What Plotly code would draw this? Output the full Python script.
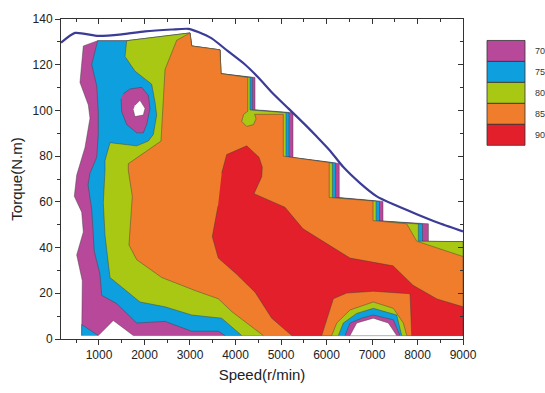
import plotly.graph_objects as go

# ---------------- data (speed r/min, torque N.m) ----------------
levels = [70, 75, 80, 85, 90]
level_colors = ["#b8489a", "#0e9fdf", "#a9c813", "#ef7d2b", "#e31f2b"]

# peak torque envelope
curve_speed = [165, 473, 985, 1499, 2011, 2598, 2963, 3183, 3477, 3842, 4209, 4502, 4796,
               5161, 5528, 5785, 6078, 6370, 6737, 7104, 7469, 7983, 8423, 9000]
curve_torque = [129.6, 133.9, 132.6, 133.3, 134.6, 135.4, 135.7, 134.3, 131.5, 125.8, 120.1,
                114.4, 108.0, 100.9, 93.8, 88.6, 82.4, 75.2, 68.2, 62.4, 58.9, 54.6, 51.1, 47.1]

# region >= 70 (measured operating domain)
dom_speed = [620, 633, 510, 655, 620, 457, 510, 692, 802, 765, 582, 604, 655, 971, 1609, 3000,
             3038, 3660, 3682, 4429, 4429, 5264, 5264, 6280, 6280, 7242, 7242, 8240, 8240,
             9000, 9000, 1754, 1314, 985]
dom_torque = [1.5, 25.5, 36.8, 46.8, 55.5, 62.4, 71.7, 83.8, 96.6, 102.4, 112.2, 117.2, 128.2,
              130.5, 130.5, 133.9, 128.2, 126.5, 116.1, 114.4, 100.3, 99.0, 79.4, 76.8, 61.9,
              60.2, 51.6, 50.4, 42.7, 42.6, 1.5, 1.5, 8.1, 1.5]

# region >= 75
p75_speed = [3770, 3622, 3038, 2451, 1829, 1389, 1059, 1022, 897, 840, 760, 800, 950, 985, 985,
             950, 840, 971, 1609, 3000, 3038, 3660, 3682, 4370, 4370, 5176, 5176, 6200, 6200,
             7165, 7165, 8110, 8110, 9000, 9000]
p75_torque = [1.5, 3.4, 3.4, 7.7, 7.0, 15.5, 19.1, 28.3, 38.3, 56.8, 67.4, 72.4, 79.5, 89.5,
              99.4, 110.8, 120.1, 130.5, 130.5, 133.9, 128.2, 126.5, 116.1, 114.4, 100.2, 99.0,
              79.6, 77.0, 61.9, 60.2, 51.7, 50.3, 42.7, 42.6, 1.5]
p75b_speed = [620, 620, 985]
p75b_torque = [1.5, 6.3, 1.5]

# island < 75 and its empty core
isl_speed = [1534, 1681, 1939, 2084, 2121, 2048, 1974, 1829, 1609, 1499, 1484]
isl_torque = [107.3, 109.4, 110.1, 106.6, 100.9, 93.8, 90.2, 90.2, 93.8, 99.4, 105.1]
hole_speed = [1791, 1901, 2011, 1974, 1791, 1754]
hole_torque = [102.3, 104.4, 100.9, 98.0, 97.3, 100.2]

# region >= 80
p80_speed = [4137, 3697, 3038, 2451, 1901, 1242, 1132, 1095, 1132, 1132, 1242, 1829, 2084, 2194,
             2268, 2231, 2158, 1791, 1572, 1609, 3000, 3038, 3660, 3682, 4319, 4319, 5110, 5110,
             6130, 6130, 7090, 7090, 8018, 8018, 9000, 9000]
p80_torque = [1.5, 9.1, 10.5, 14.1, 16.2, 26.9, 45.4, 59.6, 73.8, 78.1, 85.9, 84.5, 86.6, 89.5,
              98.0, 103.7, 111.5, 117.2, 123.6, 130.5, 133.9, 128.2, 126.5, 116.1, 114.4, 100.2,
              99.0, 79.7, 76.9, 61.9, 60.3, 51.7, 50.3, 42.8, 42.6, 1.5]

# region >= 85
p85_speed = [4611, 4356, 3917, 3622, 3110, 2378, 1829, 1659, 1732, 1644, 1644, 2363, 2413, 2451,
             2708, 3000, 3038, 3660, 3682, 4269, 4269, 4180, 4137, 4247, 4393, 4452, 4420, 5051,
             5051, 6060, 6060, 7023, 7023, 7763, 7983, 9000, 9000]
p85_torque = [1.5, 5.5, 12.0, 17.6, 21.2, 26.9, 34.7, 41.1, 62.4, 73.8, 76.7, 86.6, 102.3,
              117.9, 130.7, 133.9, 128.2, 126.5, 116.1, 114.4, 99.6, 98.3, 95.2, 93.0, 93.8,
              96.3, 98.3, 98.3, 80.0, 77.2, 61.9, 60.4, 51.8, 50.4, 42.8, 36.1, 1.5]

# region >= 90
p90_speed = [3697, 3807, 4247, 4517, 4589, 4576, 4407, 5088, 5484, 6517, 7462, 7902, 8429, 9000,
             9000, 5236, 4796, 4429, 4027, 3622, 3490, 3616]
p90_torque = [72.6, 80.7, 84.5, 79.5, 75.2, 71.0, 63.6, 57.6, 48.2, 35.4, 32.0, 23.5, 17.5, 14.1,
              1.5, 1.5, 9.1, 20.5, 28.3, 35.4, 44.8, 58.2]

# low-efficiency arch near 7000 r/min (85, 80, 75, 70, empty)
arch85_speed = [5895, 6078, 6150, 6444, 7029, 7836, 7873]
arch85_torque = [1.5, 12.7, 17.6, 20.1, 20.9, 19.8, 1.5]
arch80_speed = [6115, 6225, 6517, 7029, 7469, 7689, 7763]
arch80_torque = [1.5, 7.0, 12.7, 16.2, 13.4, 7.0, 1.5]
arch75_speed = [6260, 6370, 6664, 7029, 7543, 7653]
arch75_torque = [1.5, 7.0, 11.2, 13.4, 10.5, 1.5]
arch70_speed = [6407, 6517, 6774, 7029, 7469, 7616]
arch70_torque = [1.5, 7.0, 9.1, 10.5, 8.4, 1.5]
archw_speed = [6517, 6664, 7029, 7359, 7543]
archw_torque = [1.5, 7.0, 9.1, 7.0, 1.5]

# ---------------- figure ----------------
fig = go.Figure()
edge = dict(color="rgba(60,60,60,0.75)", width=0.6)


def poly(xs, ys, color):
    fig.add_trace(go.Scatter(x=xs, y=ys, fill="toself", fillcolor=color, mode="lines",
                             line=edge, hoverinfo="skip", showlegend=False))


c70, c75, c80, c85, c90 = level_colors
poly(dom_speed, dom_torque, c70)
poly(p75b_speed, p75b_torque, c75)
poly(p75_speed, p75_torque, c75)
poly(isl_speed, isl_torque, c70)
poly(hole_speed, hole_torque, "white")
poly(p80_speed, p80_torque, c80)
poly(p85_speed, p85_torque, c85)
poly(p90_speed, p90_torque, c90)
poly(arch85_speed, arch85_torque, c85)
poly(arch80_speed, arch80_torque, c80)
poly(arch75_speed, arch75_torque, c75)
poly(arch70_speed, arch70_torque, c70)
poly(archw_speed, archw_torque, "white")

fig.add_trace(go.Scatter(x=curve_speed, y=curve_torque, mode="lines",
                         line=dict(color="#3b3b98", width=2.2, shape="spline", smoothing=0.6),
                         hoverinfo="skip", showlegend=False))
# helper trace for mirrored axes
fig.add_trace(go.Scatter(x=[None], y=[None], xaxis="x2", yaxis="y2", showlegend=False))

font_family = "Arial, Liberation Sans, sans-serif"
axcol = "#333333"
common = dict(showgrid=False, zeroline=False, showline=True, linecolor=axcol, linewidth=1,
              tickcolor=axcol, tickwidth=1)

fig.update_layout(
    width=545, height=393,
    margin=dict(l=61, r=82, t=15, b=50),
    paper_bgcolor="white", plot_bgcolor="white",
    font=dict(family=font_family, color="#222222", size=12),
    xaxis=dict(range=[165, 9000], tick0=0, dtick=1000, ticks="outside", ticklen=5,
               minor=dict(ticks="outside", ticklen=3, dtick=500, tick0=0, tickcolor=axcol),
               title=dict(text="Speed(r/min)", font=dict(size=15), standoff=8),
               tickfont=dict(size=12), **common),
    yaxis=dict(range=[0, 140], tick0=0, dtick=20, ticks="outside", ticklen=5,
               minor=dict(ticks="outside", ticklen=3, dtick=10, tick0=0, tickcolor=axcol),
               title=dict(text="Torque(N.m)", font=dict(size=15), standoff=6),
               tickfont=dict(size=12), **common),
    xaxis2=dict(range=[165, 9000], overlaying="x", side="top", anchor="y2", tick0=0, dtick=1000,
                ticks="inside", ticklen=5, showticklabels=False,
                minor=dict(ticks="inside", ticklen=3, dtick=500, tick0=0, tickcolor=axcol),
                **common),
    yaxis2=dict(range=[0, 140], overlaying="y", side="right", anchor="x2", tick0=0, dtick=20,
                ticks="inside", ticklen=5, showticklabels=False,
                minor=dict(ticks="inside", ticklen=3, dtick=10, tick0=0, tickcolor=axcol),
                **common),
)

# contour level key on the right
px_l, px_w, px_t, px_h = 61, 402, 15, 328
box_h = 21.5
for i, (lv, col) in enumerate(zip(levels, level_colors)):
    top = 37 + box_h * i
    y1 = (px_t + px_h - top) / px_h
    y0 = (px_t + px_h - top - box_h) / px_h
    fig.add_shape(type="rect", xref="paper", yref="paper",
                  x0=(487 - px_l) / px_w, x1=(525 - px_l) / px_w, y0=y0, y1=y1,
                  fillcolor=col, line=dict(color="#333333", width=0.8))
    fig.add_annotation(xref="paper", yref="paper", x=(540 - px_l) / px_w, y=(y0 + y1) / 2,
                       text=str(lv), showarrow=False, font=dict(size=9, color="#333333"),
                       xanchor="center", yanchor="middle")

fig.write_html("out.html")
